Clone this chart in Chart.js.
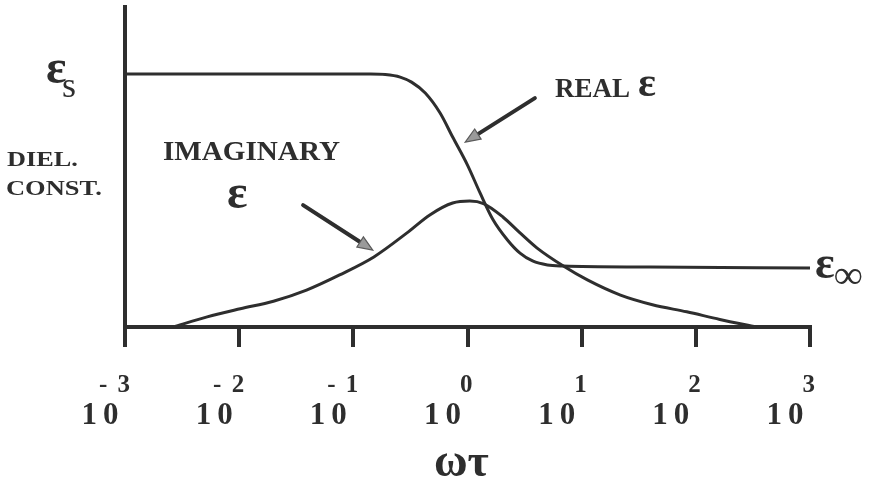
<!DOCTYPE html>
<html>
<head>
<meta charset="utf-8">
<title>Dielectric constant vs ωτ</title>
<script src="https://cdn.jsdelivr.net/npm/chart.js@4/dist/chart.umd.min.js"></script>
<style>
  html, body { margin: 0; padding: 0; background: #fff; }
  #wrap { width: 871px; height: 482px; }
</style>
</head>
<body>
<div id="wrap"><canvas id="c" width="871" height="482"></canvas></div>
<script>
// Real part of the dielectric constant, x = log10(ωτ)
const realLogWT = [-3, -2, -1, -0.85, -0.72, -0.59, -0.49, -0.37, -0.24, -0.13, 0.00, 0.11, 0.22, 0.35, 0.46, 0.57, 0.70, 0.84, 1.60, 3];
const realEps   = [10, 10, 10, 10, 9.98, 9.88, 9.68, 9.25, 8.46, 7.51, 6.40, 5.30, 4.27, 3.44, 2.92, 2.61, 2.45, 2.41, 2.37, 2.33];

// Imaginary part (loss peak), x = log10(ωτ)
const imagLogWT = [-2.58, -2.28, -1.99, -1.70, -1.41, -1.12, -0.82, -0.53, -0.33, -0.13, 0.02, 0.14, 0.31, 0.46, 0.61, 0.84, 1.05, 1.34, 1.62, 1.92, 2.21, 2.53];
const imagEps   = [0, 0.40, 0.72, 1.02, 1.46, 2.06, 2.77, 3.72, 4.43, 4.90, 4.98, 4.88, 4.35, 3.72, 3.12, 2.41, 1.86, 1.26, 0.88, 0.60, 0.30, 0];

// Decade tick labels: 10 raised to these exponents
const decadeTicks = [-3, -2, -1, 0, 1, 2, 3];
const decadeExponents = ['- 3', '- 2', '- 1', '0', '1', '2', '3'];
const decadeBase = '10';

// Pointer arrows [tail, head] in (log10 ωτ, ε) units
const realArrow = [[0.59, 9.05], [-0.02, 7.31]];
const imagArrow = [[-1.44, 4.82], [-0.83, 3.04]];

const INK = '#2e2e2e';
const SERIF = '"Liberation Serif", "DejaVu Serif", serif';

function put(ctx, text, px, py, size, o = {}) {
  ctx.save();
  ctx.font = `${o.weight || 'normal'} ${size}px ${SERIF}`;
  ctx.fillStyle = INK;
  ctx.textAlign = o.align || 'left';
  ctx.textBaseline = 'alphabetic';
  ctx.letterSpacing = (o.spacing || 0) + 'px';
  ctx.translate(px, py);
  ctx.scale(o.sx || 1, 1);
  ctx.fillText(text, 0, 0);
  ctx.restore();
}

function arrow(ctx, xs, ys, seg) {
  const x0 = xs.getPixelForValue(seg[0][0]), y0 = ys.getPixelForValue(seg[0][1]);
  const x1 = xs.getPixelForValue(seg[1][0]), y1 = ys.getPixelForValue(seg[1][1]);
  const a = Math.atan2(y1 - y0, x1 - x0);
  const len = 15, half = 6;
  const bx = x1 - len * Math.cos(a), by = y1 - len * Math.sin(a);
  ctx.save();
  ctx.strokeStyle = INK;
  ctx.lineWidth = 4;
  ctx.lineCap = 'round';
  ctx.beginPath();
  ctx.moveTo(x0, y0);
  ctx.lineTo(bx, by);
  ctx.stroke();
  ctx.beginPath();
  ctx.moveTo(x1, y1);
  ctx.lineTo(bx + half * Math.sin(a), by - half * Math.cos(a));
  ctx.lineTo(bx - half * Math.sin(a), by + half * Math.cos(a));
  ctx.closePath();
  ctx.fillStyle = '#9a9a9a';
  ctx.fill();
  ctx.strokeStyle = '#5a5a5a';
  ctx.lineWidth = 1.2;
  ctx.stroke();
  ctx.restore();
}

const annotations = {
  id: 'annotations',
  afterDraw(chart) {
    const { ctx, scales: { x, y } } = chart;

    // decade labels under the axis
    x.ticks.forEach((t, i) => {
      const k = decadeTicks.indexOf(t.value);
      if (k < 0) return;
      const px = x.getPixelForTick(i);
      put(ctx, decadeExponents[k], px + 7, 392, 25, { align: 'right', spacing: 2, weight: 'bold' });
      put(ctx, decadeBase, px - 22, 424, 31, { align: 'center', spacing: 6, weight: 'bold' });
    });

    // axis title
    put(ctx, 'ωτ', 434, 476, 46, { weight: 'bold' });

    // y-axis labels
    put(ctx, 'ε', 46, 83, 48, { weight: 'bold' });
    put(ctx, 's', 62, 97, 36);
    put(ctx, 'DIEL.', 7, 166, 21, { sx: 1.25, weight: 'bold' });
    put(ctx, 'CONST.', 6, 195, 21, { sx: 1.26, weight: 'bold' });

    // curve labels
    put(ctx, 'IMAGINARY', 163, 160, 28, { sx: 1.04, weight: 'bold' });
    put(ctx, 'ε', 227, 208, 48, { weight: 'bold' });
    put(ctx, 'REAL', 555, 97, 27, { weight: 'bold' });
    put(ctx, 'ε', 638, 96, 42, { weight: 'bold' });
    put(ctx, 'ε', 815, 278, 46, { weight: 'bold' });
    put(ctx, '∞', 834, 288, 40, { weight: 'bold' });

    arrow(ctx, x, y, realArrow);
    arrow(ctx, x, y, imagArrow);
  }
};

new Chart(document.getElementById('c').getContext('2d'), {
  type: 'line',
  data: {
    datasets: [
      {
        label: 'Real ε',
        data: realLogWT.map((v, i) => ({ x: v, y: realEps[i] })),
        borderColor: INK,
        borderWidth: 3,
        pointRadius: 0,
        cubicInterpolationMode: 'monotone',
        fill: false,
        clip: 10
      },
      {
        label: 'Imaginary ε',
        data: imagLogWT.map((v, i) => ({ x: v, y: imagEps[i] })),
        borderColor: INK,
        borderWidth: 3,
        pointRadius: 0,
        cubicInterpolationMode: 'monotone',
        fill: false,
        clip: 10
      }
    ]
  },
  options: {
    responsive: false,
    animation: false,
    devicePixelRatio: 1,
    layout: { padding: { left: 125, right: 61, top: 7, bottom: 135 } },
    plugins: { legend: { display: false }, tooltip: { enabled: false } },
    scales: {
      x: {
        type: 'linear',
        min: -3,
        max: 3,
        ticks: { display: false, stepSize: 1 },
        grid: { display: true, drawOnChartArea: false, drawTicks: true, tickLength: 20, lineWidth: 4, color: INK },
        border: { display: true, width: 4, color: INK },
        afterFit(s) { s.height = 20; }
      },
      y: {
        min: 0,
        max: 12.65,
        ticks: { display: false },
        grid: { display: false, drawTicks: false },
        border: { display: true, width: 4, color: INK },
        afterFit(s) { s.width = 0; }
      }
    }
  },
  plugins: [annotations]
});
</script>
</body>
</html>
